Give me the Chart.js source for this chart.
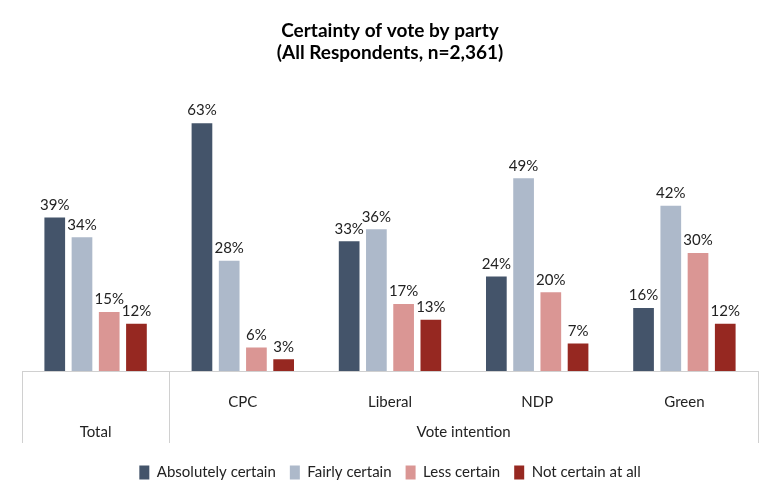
<!DOCTYPE html>
<html><head><meta charset="utf-8">
<script src="https://cdn.jsdelivr.net/npm/chart.js@4/dist/chart.umd.min.js"></script>
<style>html,body{margin:0;padding:0;background:#fff}#wrap{width:780px;height:502px}</style>
</head><body><div id="wrap"><canvas id="c"></canvas></div>
<script>
const categories = ['Total', 'CPC', 'Liberal', 'NDP', 'Green'];
const tickLabels = ['', 'CPC', 'Liberal', 'NDP', 'Green'];
const groupLabels = ['Total', 'Vote intention'];
const groupSpans = [1, 4];
const seriesNames = ['Absolutely certain', 'Fairly certain', 'Less certain', 'Not certain at all'];
const absolutelyCertain = [39, 63, 33, 24, 16];
const fairlyCertain = [34, 28, 36, 49, 42];
const lessCertain = [15, 6, 17, 20, 30];
const notCertain = [12, 3, 13, 7, 12];
const colors = ['#44546a', '#adb9ca', '#da9694', '#962821'];
const FONT = 'Lato, "Open Sans", sans-serif';

const labelPlugin = {
  id: 'labels',
  afterDatasetsDraw(chart) {
    const ctx = chart.ctx;
    ctx.save();
    ctx.font = '15px ' + FONT;
    ctx.fillStyle = '#222';
    ctx.textAlign = 'center';
    ctx.textBaseline = 'bottom';
    chart.data.datasets.forEach((ds, i) => {
      chart.getDatasetMeta(i).data.forEach((bar, j) => {
        ctx.fillText(ds.data[j] + '%', bar.x, bar.y - 5);
      });
    });
    ctx.restore();
  }
};

const axisPlugin = {
  id: 'multiAxis',
  afterDraw(chart) {
    const ctx = chart.ctx;
    const xs = chart.scales.x;
    const area = chart.chartArea;
    const base = area.bottom;
    const bottom = base + 72;
    ctx.save();
    ctx.strokeStyle = '#d0d0d0';
    ctx.lineWidth = 1;
    ctx.beginPath();
    ctx.moveTo(area.left, base + 0.5);
    ctx.lineTo(area.right, base + 0.5);
    let idx = 0;
    const bounds = [area.left];
    groupSpans.forEach(s => {
      idx += s;
      if (idx < categories.length) {
        bounds.push((xs.getPixelForValue(idx - 1) + xs.getPixelForValue(idx)) / 2);
      } else bounds.push(area.right);
    });
    bounds.forEach(b => {
      const x = Math.round(b) + 0.5;
      ctx.moveTo(x, base);
      ctx.lineTo(x, bottom);
    });
    ctx.stroke();
    ctx.font = '15px ' + FONT;
    ctx.fillStyle = '#222';
    ctx.textAlign = 'center';
    ctx.textBaseline = 'middle';
    groupLabels.forEach((g, i) => {
      ctx.fillText(g, (bounds[i] + bounds[i + 1]) / 2, base + 61);
    });
    ctx.restore();
  }
};

new Chart(document.getElementById('c'), {
  type: 'bar',
  data: {
    labels: tickLabels,
    datasets: [absolutelyCertain, fairlyCertain, lessCertain, notCertain].map((d, i) => ({
      label: seriesNames[i],
      data: d,
      backgroundColor: colors[i],
      categoryPercentage: 0.74,
      barPercentage: 0.76
    }))
  },
  options: {
    responsive: true,
    maintainAspectRatio: false,
    animation: false,
    layout: { padding: { left: 22, right: 22, top: 6, bottom: 12 } },
    plugins: {
      title: {
        display: true,
        text: ['Certainty of vote by party', '(All Respondents, n=2,361)'],
        font: { family: FONT, size: 19, weight: 'bold' },
        color: '#000',
        padding: { top: 13, bottom: 31 },
        lineHeight: 1.55
      },
      legend: {
        position: 'bottom',
        labels: {
          font: { family: FONT, size: 15 },
          color: '#222',
          boxWidth: 10,
          boxHeight: 14,
          padding: 14
        }
      },
      tooltip: { enabled: false }
    },
    scales: {
      y: { display: false, min: 0, max: 70 },
      x: {
        grid: { display: false },
        border: { display: false },
        ticks: { font: { family: FONT, size: 15 }, color: '#222', padding: 14 },
        afterFit(scale) { scale.height = 80; }
      }
    }
  },
  plugins: [labelPlugin, axisPlugin]
});
</script></body></html>
